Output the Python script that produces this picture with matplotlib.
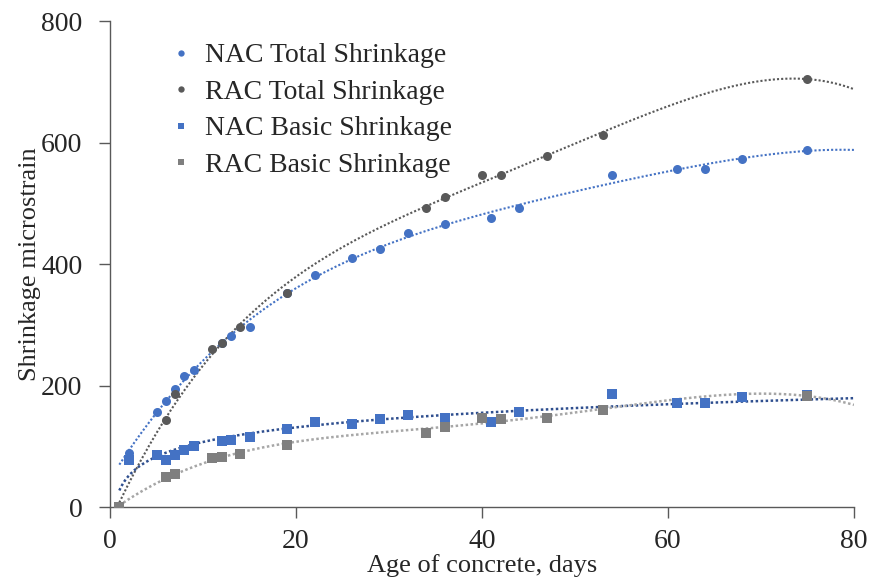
import numpy as np
import matplotlib
matplotlib.use("Agg")
import matplotlib.pyplot as plt

plt.rcParams['font.family'] = ['Liberation Serif', 'DejaVu Serif']

# Measured shrinkage (microstrain) against age of concrete (days)
nac_total_days = [2, 5, 6, 7, 8, 9, 12, 13, 15, 19, 22, 26, 29, 32, 36, 41, 44, 54, 61, 64, 68, 75]
nac_total = [89, 156, 175, 194, 216, 225, 270, 281, 297, 352, 382, 410, 425, 451, 466, 475, 493, 547, 556, 557, 573, 588]

rac_total_days = [1, 6, 7, 11, 12, 14, 19, 34, 36, 40, 42, 47, 53, 75]
rac_total = [0, 144, 186, 260, 270, 296, 352, 492, 511, 547, 547, 577, 612, 705]

nac_basic_days = [2, 5, 6, 7, 8, 9, 12, 13, 15, 19, 22, 26, 29, 32, 36, 41, 44, 54, 61, 64, 68, 75]
nac_basic = [77, 86, 78, 86, 94, 100, 108, 110, 115, 128, 140, 136, 145, 151, 146, 140, 156, 186, 172, 171, 181, 184]

rac_basic_days = [1, 6, 7, 11, 12, 14, 19, 34, 36, 40, 42, 47, 53, 75]
rac_basic = [0, 49, 55, 81, 82, 87, 102, 122, 132, 146, 145, 147, 159, 183]

x_ticks = [0, 20, 40, 60, 80]
y_ticks = [0, 200, 400, 600, 800]

blue = '#4472C4'
dark_grey = '#595959'
grey = '#7F7F7F'
navy = '#2F4F8F'
light_grey = '#A6A6A6'
text_col = '#262626'
fs = 20

fig = plt.figure(figsize=(8.74, 5.77), dpi=100)
ax = fig.add_axes([0.1259, 0.1213, 0.8511, 0.8423])

xs = np.linspace(1, 80, 400)


def poly_trend(days, vals, deg):
    return np.polyval(np.polyfit(days, vals, deg), xs)


def log_trend(days, vals):
    a, b = np.polyfit(np.log(days), vals, 1)
    return a * np.log(xs) + b


dots = (0, (1, 1))
ax.plot(xs, poly_trend(nac_total_days, nac_total, 4), linestyle=dots, color=blue, lw=1.5, zorder=2)
ax.plot(xs, poly_trend(rac_total_days, rac_total, 4), linestyle=dots, color=dark_grey, lw=1.5, zorder=2)
ax.plot(xs, log_trend(nac_basic_days, nac_basic), linestyle=dots, color=navy, lw=1.8, zorder=2)
ax.plot(xs, poly_trend(rac_basic_days, rac_basic, 4), linestyle=dots, color=light_grey, lw=1.8, zorder=2)

ms = 6.5
ax.plot(nac_total_days, nac_total, 'o', color=blue, ms=ms, mew=0, label='NAC Total Shrinkage', zorder=3)
ax.plot(rac_total_days, rac_total, 'o', color=dark_grey, ms=ms, mew=0, label='RAC Total Shrinkage', zorder=4)
ax.plot(nac_basic_days, nac_basic, 's', color=blue, ms=ms, mew=0, label='NAC Basic Shrinkage', zorder=3)
ax.plot(rac_basic_days, rac_basic, 's', color=grey, ms=ms, mew=0, label='RAC Basic Shrinkage', zorder=4)

ax.set_xlim(0, 80)
ax.set_ylim(0, 800)
ax.set_xticks(x_ticks)
ax.set_yticks(y_ticks)
ax.tick_params(axis='both', direction='out', length=8, width=1, colors=dark_grey,
               labelcolor=text_col, labelsize=fs)
ax.tick_params(axis='x', pad=8)
ax.tick_params(axis='y', pad=12)
for s in ['top', 'right']:
    ax.spines[s].set_visible(False)
for s in ['left', 'bottom']:
    ax.spines[s].set_color(dark_grey)
    ax.spines[s].set_linewidth(1)

ax.set_xlabel('Age of concrete, days', fontsize=19, color=text_col, labelpad=0)
ax.set_ylabel('Shrinkage microstrain', fontsize=19, color=text_col, labelpad=0)

leg = ax.legend(loc='upper left', bbox_to_anchor=(0.081, 0.955), frameon=False, fontsize=fs,
                markerscale=0.7, handlelength=0.8, handletextpad=0.45, labelspacing=0.4,
                borderpad=0, borderaxespad=0)
for t in leg.get_texts():
    t.set_color(text_col)

fig.savefig('out.png', dpi=100)
